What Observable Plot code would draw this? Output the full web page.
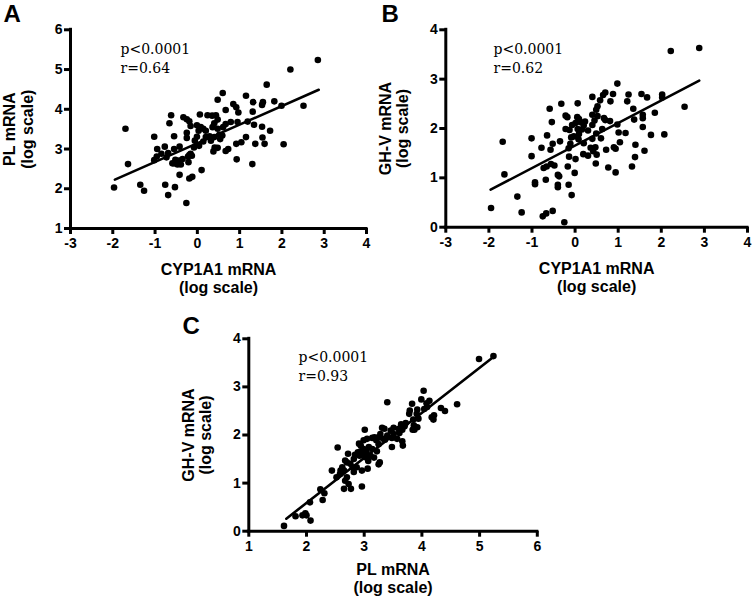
<!DOCTYPE html>
<html>
<head>
<meta charset="utf-8">
<script src="https://cdn.jsdelivr.net/npm/d3@7"></script>
<script src="https://cdn.jsdelivr.net/npm/@observablehq/plot@0.6"></script>
<style>
  html, body { margin: 0; padding: 0; background: #fff; }
  #page { position: relative; width: 754px; height: 597px; overflow: hidden; }
  .panel { position: absolute; }
</style>
</head>
<body>
<div id="page">
  <div class="panel" id="pA" style="left:0px;top:0px"></div>
  <div class="panel" id="pB" style="left:377px;top:0px"></div>
  <div class="panel" id="pC" style="left:160px;top:300px"></div>
</div>
<script>
// ---------- Panel A: CYP1A1 vs PL ----------
const aCyp = [2.85,2.20,1.64,0.60,1.15,1.32,1.55,1.53,1.82,1.99,2.51,0.48,0.85,0.92,0.67,0.97,1.31,1.19,1.34,1.53,
  1.72,1.54,1.37,1.59,2.04,1.30,0.93,1.15,1.04,0.92,0.73,0.67,0.95,0.79,0.44,0.48,0.24,0.06,0.35,-0.62,
  -0.66,-0.33,-0.25,-0.19,-0.16,-0.01,0.08,0.14,0.20,0.03,0.40,0.36,0.48,0.61,0.67,0.52,0.59,0.54,0.40,0.29,
  0.20,0.32,0.41,0.38,0.48,0.14,-0.01,-0.06,0.04,-0.08,-0.16,-0.13,-0.19,-0.25,-0.25,-0.55,-0.77,-0.55,-0.95,-0.96,
  -1.02,-1.70,-1.64,-1.97,-1.35,-1.26,-0.76,-0.69,-0.53,-0.42,-0.19,-0.12,-0.26,0.10,-0.55,-0.59,-0.47,-0.39,-0.43,-0.52,
  -0.35,-0.73,-0.85,-1.02,-0.69,-0.42,-0.21,-0.22];
const aPL = [5.24,5.00,4.62,4.41,4.34,4.18,4.18,4.11,4.20,4.09,4.09,4.24,4.13,4.05,3.98,3.92,3.94,3.69,3.61,3.56,
  3.46,3.29,3.13,3.13,3.12,2.62,2.74,3.30,3.17,3.13,3.00,2.95,3.68,3.68,3.85,3.74,3.85,3.87,3.84,3.85,
  3.65,3.80,3.75,3.70,3.58,3.60,3.55,3.51,3.46,3.46,3.65,3.55,3.51,3.55,3.63,3.36,3.34,3.25,3.30,3.32,
  3.30,3.21,3.04,2.94,3.03,3.19,3.31,3.21,3.08,3.04,2.88,2.83,2.85,3.41,3.28,3.32,3.06,3.00,3.00,2.81,
  3.31,3.51,2.62,2.03,2.10,1.95,2.10,1.84,2.04,2.35,2.26,2.30,1.64,2.47,2.64,2.64,2.61,2.61,2.71,2.73,
  2.75,2.79,2.88,2.72,2.90,3.06,2.67,2.81];
const aLineX = [-1.95, 2.87];
const aLineY = [2.23, 4.49];

// ---------- Panel B: CYP1A1 vs GH-V ----------
const bCyp = [2.88,2.22,0.98,2.02,2.02,1.67,1.54,1.24,0.88,0.70,0.65,0.58,0.52,0.49,0.40,0.82,1.21,1.35,1.57,1.57,
  1.85,2.54,2.07,1.76,1.57,1.40,1.61,1.32,1.39,1.17,1.01,0.98,1.04,0.90,0.94,0.94,0.77,0.72,1.37,0.70,
  0.67,0.81,0.63,0.45,0.52,0.40,0.60,0.49,0.40,0.30,0.40,0.47,0.42,0.50,0.48,0.36,0.30,0.19,0.20,0.08,
  -0.03,0.09,0.06,0.16,0.20,0.23,0.12,0.09,0.05,-0.07,0.01,0.06,-0.22,-0.18,-0.22,-0.13,-0.09,-0.11,-0.15,-0.14,
  0.01,-0.17,-0.01,-0.08,-0.15,-0.25,-0.32,-0.54,-0.59,-0.35,-0.52,-0.57,-0.65,-0.78,-1.01,-1.01,-0.73,-0.56,-0.48,-0.40,
  -0.37,-0.40,-0.40,-0.68,-0.93,-0.93,-1.68,-1.64,-1.95,-1.34,-1.24,-0.75,-0.67,-0.52,-0.66];
const bGHV = [3.63,3.57,2.91,2.69,2.63,2.63,2.70,2.69,2.70,2.73,2.68,2.57,2.45,2.38,2.64,2.55,2.55,2.40,2.28,2.21,
  2.32,2.44,1.88,1.87,2.03,1.67,1.55,1.23,1.42,1.91,1.92,2.08,1.72,1.62,1.59,1.11,1.21,1.57,2.18,2.17,
  2.21,2.15,1.99,2.16,2.25,2.28,1.80,1.90,2.07,1.96,1.79,1.62,1.54,1.47,1.29,1.61,1.45,1.48,1.70,1.78,
  1.84,1.89,1.99,1.98,2.06,2.14,2.13,2.19,2.23,2.07,2.11,2.51,1.99,2.23,2.26,1.97,1.82,1.69,1.60,1.43,
  1.38,1.23,1.10,0.65,0.86,0.10,2.50,2.13,2.40,1.74,1.69,1.57,1.86,1.61,1.80,1.44,1.20,1.28,1.25,1.06,
  1.03,0.86,0.81,0.96,0.91,0.87,1.73,1.07,0.39,0.62,0.30,0.22,0.28,0.33,1.23];
const bLineX = [-1.96, 2.88];
const bLineY = [0.76, 2.97];

// ---------- Panel C: PL vs GH-V ----------
const cPL = [5.24,4.99,4.61,4.40,4.33,4.20,4.17,4.21,4.13,4.08,4.03,3.99,4.09,4.04,3.92,3.91,3.94,3.85,3.83,3.79,
  3.78,3.84,3.87,3.86,3.92,3.72,3.70,3.64,3.66,3.60,3.61,3.51,3.57,3.66,3.67,3.48,3.48,3.40,3.51,3.46,
  3.40,3.35,3.31,3.28,3.36,3.33,3.25,3.21,3.18,3.14,3.25,3.22,3.27,3.25,3.14,3.17,3.01,3.05,3.08,2.99,
  2.94,2.89,2.91,3.04,3.11,3.02,2.96,3.07,2.92,2.84,2.82,2.76,2.87,2.96,3.06,2.96,2.82,2.80,2.70,2.72,
  2.67,2.62,2.59,2.58,2.65,2.70,2.67,2.77,2.65,2.73,2.54,2.44,2.52,2.24,2.31,2.28,2.06,1.98,1.93,2.00,
  1.81,2.07,1.61,2.99,2.94];
const cGHV = [3.64,3.58,2.64,2.50,2.56,2.32,2.37,2.41,2.71,2.66,2.92,2.74,2.58,2.54,2.53,2.44,2.34,2.32,2.65,2.51,
  2.44,2.11,2.11,2.20,2.16,2.25,2.18,2.22,2.11,2.13,2.04,2.02,1.92,1.87,1.78,1.94,1.75,2.68,2.15,2.09,
  1.99,2.13,2.15,2.02,1.90,1.92,1.95,1.89,1.95,1.94,1.81,1.66,1.43,1.39,1.71,1.53,2.11,1.92,1.75,1.71,
  1.66,1.64,1.82,1.66,1.57,1.54,1.61,1.46,1.57,1.59,1.50,1.40,1.33,1.26,1.30,0.93,1.23,1.33,1.43,1.61,
  1.47,1.33,1.26,1.19,1.26,1.12,1.05,0.88,0.88,0.98,1.74,1.26,1.12,0.87,0.79,0.65,0.60,0.37,0.33,0.33,
  0.31,0.22,0.11,1.89,1.78];
const cLineX = [1.65, 5.25];
const cLineY = [0.26, 3.63];

// ---------- Tick values and texts ----------
const ticksCyp = [-3, -2, -1, 0, 1, 2, 3, 4];
const ticksPLy = [1, 2, 3, 4, 5, 6];
const ticksGHV = [0, 1, 2, 3, 4];
const ticksPLx = [1, 2, 3, 4, 5, 6];
const statsA = "p<0.0001\nr=0.64";
const statsB = "p<0.0001\nr=0.62";
const statsC = "p<0.0001\nr=0.93";

function panel(o) {
  const n = o.xs.length;
  const svg = Plot.plot({
    width: o.width, height: o.height,
    marginLeft: o.ml, marginRight: o.mr, marginTop: o.mt, marginBottom: o.mb,
    x: {domain: o.xDomain},
    y: {domain: o.yDomain},
    style: {fontFamily: "'Liberation Sans', Arial, sans-serif", fontSize: "14px", color: "black", background: "white", overflow: "visible"},
    marks: [
      Plot.axisX(o.xTicks, {tickSize: 6, tickPadding: 4, strokeWidth: 3, tickFormat: d => String(d), fontSize: 14, fontWeight: "bold", label: null}),
      Plot.axisY(o.yTicks, {tickSize: 6, tickPadding: 2, strokeWidth: 3, tickFormat: d => String(d), fontSize: 14, fontWeight: "bold", label: null}),
      Plot.ruleY([o.yDomain[0]], {strokeWidth: 3, strokeLinecap: "square"}),
      Plot.ruleX([o.xDomain[0]], {strokeWidth: 3, strokeLinecap: "square"}),
      Plot.dot({length: n}, {x: o.xs, y: o.ys, r: 3.3, fill: "black", stroke: null}),
      Plot.line({length: 2}, {x: o.lx, y: o.ly, stroke: "black", strokeWidth: 2.6}),
      Plot.text([o.stats], {frameAnchor: "top-left", dx: o.sdx, dy: o.sdy, textAnchor: "start", lineAnchor: "bottom", lineHeight: 1.29, fontFamily: "'DejaVu Serif', serif", fontSize: 14, fontWeight: "normal", fill: "black"}),
      Plot.text([o.xLabel], {frameAnchor: "bottom", dy: o.xldy, textAnchor: "middle", lineAnchor: "middle", lineHeight: 1.1, fontSize: 16, fontWeight: "bold", fill: "black"}),
      Plot.text([o.yLabel], {frameAnchor: "left", dx: -52, dy: o.yldy, rotate: -90, textAnchor: "middle", lineAnchor: "middle", lineHeight: 1.1, fontSize: 16, fontWeight: "bold", fill: "black"}),
      Plot.text([o.letter], {frameAnchor: "top-left", dx: o.ldx, dy: o.ldy, textAnchor: "start", lineAnchor: "bottom", fontSize: 24, fontWeight: "bold", fill: "black"})
    ]
  });
  // typography: bold sans for all labels, plain serif for the statistics note
  svg.querySelectorAll("text").forEach(t => {
    const s = t.textContent;
    if (s.startsWith("p<")) {
      t.style.setProperty("font-weight", "normal", "important");
      t.style.setProperty("font-family", "'DejaVu Serif', serif", "important");
    } else {
      t.style.setProperty("font-weight", "bold", "important");
      t.style.setProperty("font-family", "'Liberation Sans', Arial, sans-serif", "important");
    }
  });
  return svg;
}

document.getElementById("pA").appendChild(panel({
  width: 377, height: 300, ml: 70, mr: 11, mt: 29.3, mb: 72,
  xDomain: [-3, 4], yDomain: [1, 6], xTicks: ticksCyp, yTicks: ticksPLy,
  xs: aCyp, ys: aPL, lx: aLineX, ly: aLineY,
  stats: statsA, sdx: 50, sdy: 42.7,
  xLabel: "CYP1A1 mRNA\n(log scale)", xldy: 50,
  yLabel: "PL mRNA\n(log scale)", yldy: 0,
  letter: "A", ldx: -67, ldy: -8.3
}));

document.getElementById("pB").appendChild(panel({
  width: 377, height: 300, ml: 68.3, mr: 7, mt: 29.3, mb: 73.3,
  xDomain: [-3, 4], yDomain: [0, 4], xTicks: ticksCyp, yTicks: ticksGHV,
  xs: bCyp, ys: bGHV, lx: bLineX, ly: bLineY,
  stats: statsB, sdx: 47.7, sdy: 42.7,
  xLabel: "CYP1A1 mRNA\n(log scale)", xldy: 50,
  yLabel: "GH-V mRNA\n(log scale)", yldy: 0,
  letter: "B", ldx: -64.3, ldy: -8.3
}));

document.getElementById("pC").appendChild(panel({
  width: 400, height: 297, ml: 88.3, mr: 23.2, mt: 38.3, mb: 66.3,
  xDomain: [1, 6], yDomain: [0, 4], xTicks: ticksPLx, yTicks: ticksGHV,
  xs: cPL, ys: cGHV, lx: cLineX, ly: cLineY,
  stats: statsC, sdx: 49.7, sdy: 41.7,
  xLabel: "PL mRNA\n(log scale)", xldy: 47,
  yLabel: "GH-V mRNA\n(log scale)", yldy: 0,
  letter: "C", ldx: -66.3, ldy: -5.3
}));
</script>
</body>
</html>
